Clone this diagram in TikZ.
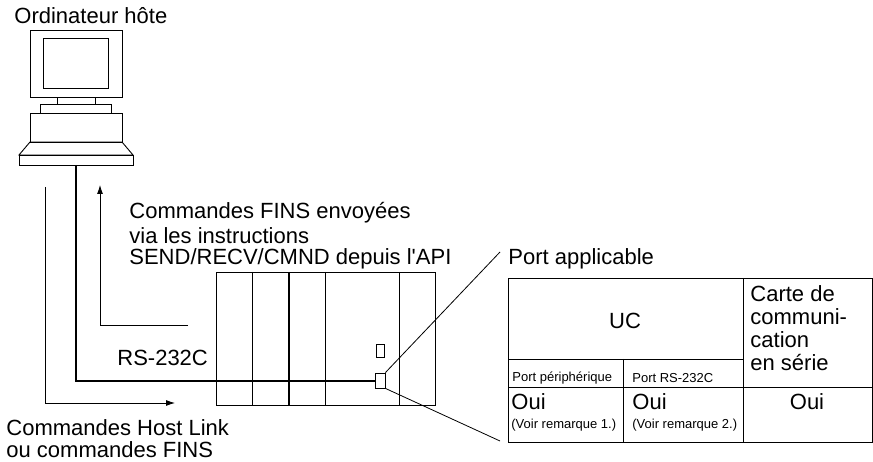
\documentclass[tikz,border=0pt]{standalone}
\usepackage{fontspec}
\setmainfont{Liberation Sans}
\usetikzlibrary{arrows.meta}
\begin{document}
\begin{tikzpicture}[x=1pt,y=-1pt,line width=0.8pt,
  lbl/.style={inner sep=0pt,font=\fontsize{22}{25}\selectfont,anchor=west},
  sm/.style={inner sep=0pt,font=\fontsize{13}{15}\selectfont,anchor=west},
  box/.style={draw,line width=0.9pt}]
\useasboundingbox (0,0) rectangle (873,462);
% computer
\draw[box] (30,30) rectangle (122,97);
\draw[box] (43,38) rectangle (108,88);
\draw[box] (57,97) rectangle (95,104);
\draw[box] (40,104) rectangle (111,113);
\draw[box] (30,113) rectangle (122,142);
\draw[box] (30,142) -- (122,142) -- (133,155) -- (19,155) -- cycle;
\draw[box] (19,155) rectangle (133,165);
\node[lbl] (host) at (14,16) {Ordinateur hôte};
% PLC
\draw[box] (216,272) rectangle (435,405);
\draw (252,272) -- (252,405);
\draw[line width=1.1pt] (289,272) -- (289,405);
\draw (325,272) -- (325,405);
\draw (399,272) -- (399,405);
\node[draw,line width=0.8pt,minimum width=8pt,minimum height=13pt,inner sep=0pt] (p1) at (380,350.5) {};
\node[draw,line width=0.8pt,fill=white,minimum width=10pt,minimum height=15pt,inner sep=0pt] (port) at (380,380.5) {};
\coordinate (cb) at (76,165);
\draw[line width=2pt] (cb) |- (port.west);
% arrows
\draw[-{Latex[length=9pt,width=6pt]}] (188,325) -| (100,185);
\draw[-{Latex[length=9pt,width=6pt]}] (45,187) |- (175,403);
\node[lbl] (fins) at (129,213) {Commandes FINS envoyées};
\node[lbl] at (129,236) {via les instructions};
\node[lbl] at (129,259) {SEND/RECV/CMND depuis l\textquotesingle API};
\node[lbl] (rs) at (117,358) {RS-232C};
\node[lbl] (hl) at (6,428) {Commandes Host Link};
\node[lbl] at (6,450) {ou commandes FINS};
% callout
\coordinate (c1) at (500,252);
\coordinate (c2) at (500,441);
\draw (port.north east) -- (c1);
\draw (port.south east) -- (c2);
\node[lbl] (pa) at (508,259) {Port applicable};
% table
\draw[box] (508,278) rectangle (872,442);
\draw (623,359) -- (623,442);
\draw (743,278) -- (743,442);
\draw (508,359) -- (743,359);
\draw (508,387) -- (872,387);
\node[lbl,anchor=center] (uc) at (625,321) {UC};
\node[lbl] at (750,294) {Carte de};
\node[lbl] at (750,317) {communi-};
\node[lbl] at (750,340) {cation};
\node[lbl] at (750,363) {en série};
\node[sm] at (512,378) {Port périphérique};
\node[sm] at (632,378) {Port RS-232C};
\node[lbl] at (511,402) {Oui};
\node[sm] at (511,425) {(Voir remarque 1.)};
\node[lbl] at (632,402) {Oui};
\node[sm] at (632,425) {(Voir remarque 2.)};
\node[lbl,anchor=center] at (807,402) {Oui};
\end{tikzpicture}
\end{document}
